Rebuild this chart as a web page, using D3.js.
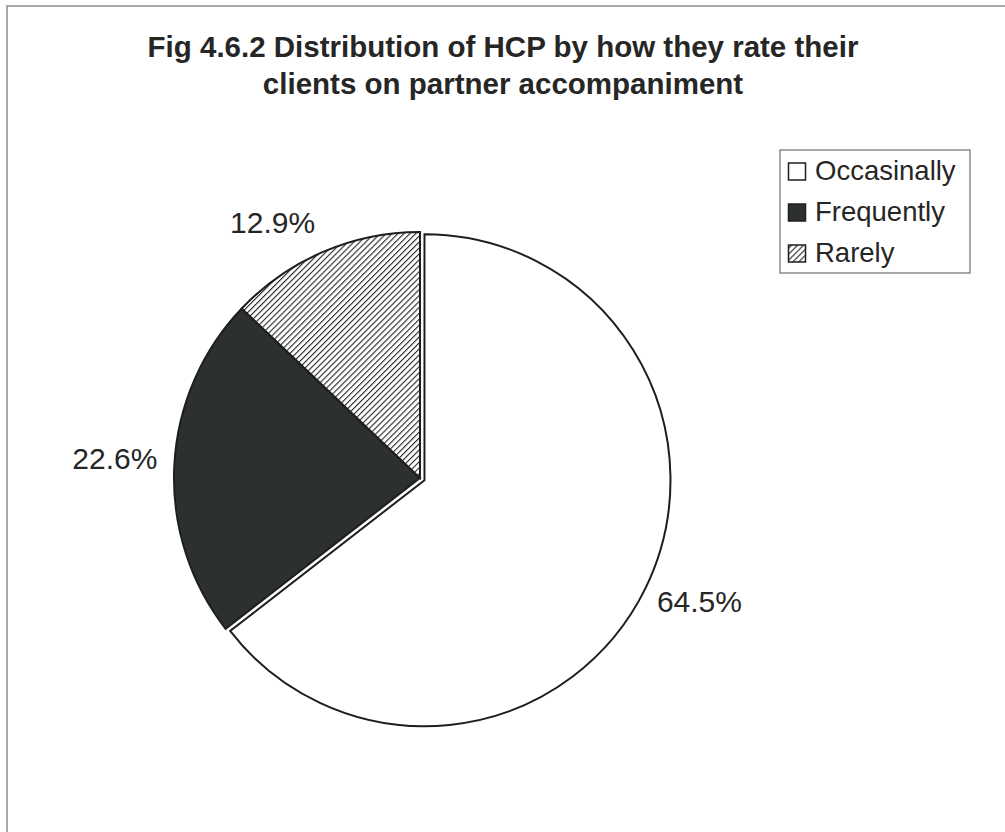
<!DOCTYPE html>
<html>
<head>
<meta charset="utf-8">
<script src="https://cdn.jsdelivr.net/npm/d3@7"></script>
<style>
  html, body { margin: 0; padding: 0; background: #fff; }
  svg { display: block; }
  text { font-family: "Liberation Sans", Arial, sans-serif; fill: #262626; }
</style>
</head>
<body>
<svg id="chart" width="1005" height="832"></svg>
<script>
// ---- data ----
const titleLines = ["Fig 4.6.2 Distribution of HCP by how they rate their", "clients on partner accompaniment"];
const categories = ["Occasinally", "Frequently", "Rarely"];
const values = [64.5, 22.6, 12.9];
const valueLabels = ["64.5%", "22.6%", "12.9%"];
const exploded = [true, false, false];

// ---- layout / style ----
const W = 1005, H = 832;
const cx = 420, cy = 478, R = 246;
const explodeDist = 5;
const labelDist = R + 15;
const svg = d3.select("#chart");

const defs = svg.append("defs");
const pat = defs.append("pattern")
  .attr("id", "hatch").attr("patternUnits", "userSpaceOnUse")
  .attr("width", 4.2).attr("height", 4.2)
  .attr("patternTransform", "rotate(45)");
pat.append("rect").attr("width", 4.2).attr("height", 4.2).attr("fill", "#fff");
pat.append("line").attr("x1", 0).attr("y1", 0).attr("x2", 0).attr("y2", 4.2)
  .attr("stroke", "#262626").attr("stroke-width", 2.2);

const fills = d3.scaleOrdinal().domain(categories).range(["#ffffff", "#2d312e", "url(#hatch)"]);

// frame
svg.append("path")
  .attr("d", `M7,${H + 5} L7,6 L${W + 5},6`)
  .attr("fill", "none").attr("stroke", "#8a8a8a").attr("stroke-width", 1.5);

// title
svg.append("text")
  .attr("x", 503).attr("text-anchor", "middle")
  .style("font-weight", "bold").style("font-size", "29.5px")
  .selectAll("tspan").data(titleLines).join("tspan")
  .attr("x", 503).attr("y", (d, i) => 57 + i * 37)
  .text(d => d);

// pie
const pie = d3.pie().sort(null).startAngle(0).endAngle(2 * Math.PI);
const arcs = pie(values);
const arc = d3.arc().innerRadius(0).outerRadius(R);

const g = svg.append("g").attr("transform", `translate(${cx},${cy})`);
const offset = (d, i) => {
  const a = (d.startAngle + d.endAngle) / 2;
  const k = exploded[i] ? explodeDist : 0;
  return [Math.sin(a) * k, -Math.cos(a) * k];
};

g.selectAll("path.slice").data(arcs).join("path")
  .attr("class", "slice")
  .attr("transform", (d, i) => { const o = offset(d, i); return `translate(${o[0]},${o[1]})`; })
  .attr("d", arc)
  .attr("fill", (d, i) => fills(categories[i]))
  .attr("stroke", "#1e1e1e").attr("stroke-width", 2).attr("stroke-linejoin", "miter");

// value labels, placed outside like Excel
g.selectAll("text.val").data(arcs).join("text")
  .attr("class", "val")
  .style("font-size", "30px")
  .text((d, i) => valueLabels[i])
  .each(function (d, i) {
    const a = (d.startAngle + d.endAngle) / 2;
    const ux = Math.sin(a), uy = -Math.cos(a);
    const o = offset(d, i);
    const px = o[0] + ux * labelDist, py = o[1] + uy * labelDist;
    const bb = this.getBBox();
    const ax = Math.max(-1, Math.min(1, ux * 3));
    const ay = Math.max(-1, Math.min(1, uy * 3));
    const boxCx = px + ax * bb.width / 2;
    const capH = 21.5;
    const boxCy = py + ay * capH / 2;
    d3.select(this).attr("text-anchor", "middle")
      .attr("x", boxCx - 2).attr("y", boxCy + capH / 2 - 5);
  });

// legend
const lg = svg.append("g").attr("transform", "translate(780,150)");
lg.append("rect").attr("width", 190).attr("height", 123)
  .attr("fill", "#fff").attr("stroke", "#6e6e6e").attr("stroke-width", 1.2);
const items = lg.selectAll("g.item").data(categories).join("g")
  .attr("class", "item")
  .attr("transform", (d, i) => `translate(0,${30 + i * 41})`);
items.append("rect").attr("x", 8.5).attr("y", -17).attr("width", 17).attr("height", 17)
  .attr("fill", d => fills(d)).attr("stroke", "#1e1e1e").attr("stroke-width", 1.5);
items.append("text").attr("x", 35).attr("y", 0)
  .style("font-size", "27.5px").text(d => d);
</script>
</body>
</html>
